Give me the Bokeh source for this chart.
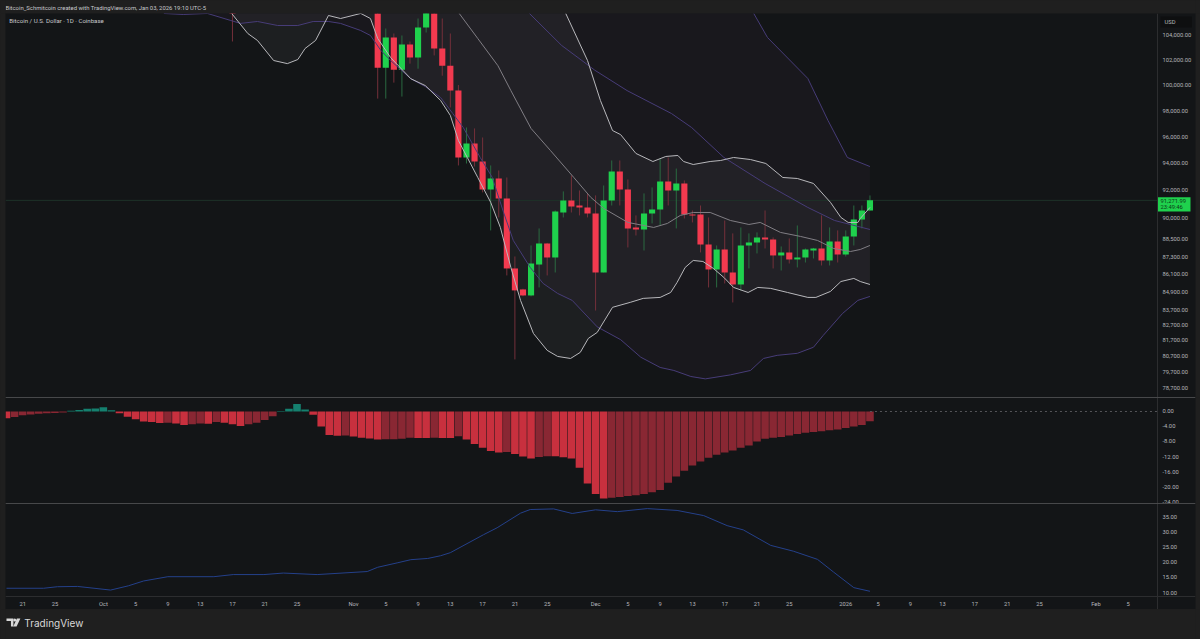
from bokeh.plotting import figure
from bokeh.layouts import column
from bokeh.models import (Range1d, LinearAxis, LogAxis, FixedTicker, NumeralTickFormatter,
                          Span, Label, ColumnDataSource)
from bokeh.embed import file_html
from bokeh.resources import INLINE

# ---- candles: bar number (day), open, high, low, close (USD) ----
bars = [28, 46, 47, 48, 49, 50, 51, 52, 53, 54, 55, 56, 57, 58, 59, 60, 61, 62, 63, 64, 65, 66, 67,
        68, 69, 70, 71, 72, 73, 74, 75, 76, 77, 78, 79, 80, 81, 82, 83, 84, 85, 86, 87, 88, 89, 90,
        91, 92, 93, 94, 95, 96, 97, 98, 99, 100, 101, 102, 103, 104, 105, 106, 107]
opens = [107500, 107000, 101380, 103836, 101220, 103260, 102200, 104660, 106200, 102935, 101540,
         99560, 94420, 95470, 94125, 92062, 92867, 91410, 86480, 85055, 84651, 86750, 88210,
         87235, 90400, 91270, 90902, 90760, 90330, 86205, 91270, 93380, 92062, 89335, 89192,
         90330, 90615, 92646, 91990, 92500, 90260, 90260, 88139, 86412, 87790, 86205,
         85390, 88070, 88280, 88630, 88488, 87375, 87585, 87098, 87235, 87720, 87860, 87030,
         88350, 87443, 88700, 89900, 90545]
highs = [108000, 107500, 104577, 104165, 104000, 103508, 105407, 107000, 107000, 105407, 104165,
         100000, 96694, 96620, 95930, 93829, 93458, 92940, 87305, 85100, 88070, 89265, 88250,
         90545, 91920, 93088, 91990, 91775, 91630, 92354, 94200, 94200, 92795, 90190, 91775,
         92210, 94345, 94424, 93600, 92720, 90545, 90902, 90045, 88070, 89829, 88915,
         89335, 88915, 88985, 90545, 88630, 88000, 88560, 89474, 87860, 87900, 90190, 89335,
         89125, 89125, 90902, 90902, 91626]
lows = [103508, 98930, 98930, 100190, 99090, 101710, 101300, 104247, 102370, 100740, 98240,
        93830, 93975, 93750, 91850, 89125, 90045, 86003, 80470, 84600, 84590, 85190, 86003,
        86205, 90045, 90400, 90190, 90045, 83647, 86205, 90902, 90902, 87930, 88769, 87720,
        89620, 89474, 90902, 89265, 89970, 89690, 87585, 85190, 85190, 85459, 84183,
        84990, 86480, 87515, 87860, 86480, 86340, 86820, 86550, 86890, 87165, 86685, 86685,
        86890, 87305, 88070, 89265, 90545]
closes = [106800, 101380, 103836, 101220, 103260, 102200, 104660, 106200, 102935, 101540, 99560,
          94420, 95470, 94125, 92062, 92867, 91410, 86480, 84990, 84651, 86820, 88210, 87235,
          90475, 91270, 90830, 90760, 90330, 86205, 91270, 93380, 92062, 89265, 89192, 90330,
          90615, 92646, 91990, 92500, 90260, 90190, 88139, 86412, 87790, 86205, 85390,
          88070, 88280, 88630, 88488, 87375, 87585, 87098, 87235, 87790, 87860, 87030, 88350,
          87443, 88700, 89900, 90545, 91272]

# ---- Bollinger bands, inner (white) ----
wl_x = [27.9, 29.9, 31.1, 33.1, 34.8, 36.1, 37.0, 38.3, 39.9, 41.4, 43.9, 45.1, 46.0, 47.6, 50.1, 51.9,
        53.8, 55.0, 56.0, 57.1, 58.4, 60.0, 61.2, 62.5, 63.7, 65.3, 67.0, 68.3, 69.9, 71.1, 72.1, 73.2,
        75.1, 77.3, 78.9, 81.0, 82.3, 83.1, 84.1, 85.1, 86.3, 87.6, 88.9, 90.1, 91.9, 93.1, 94.7, 96.8,
        99.3, 100.3, 102.1, 103.4, 105.0, 105.8, 107.0]
wl_y = [105830, 104165, 103590, 101960, 101710, 102040, 102935, 103590, 105660, 105407, 105830, 105407,
        103755, 102200, 100500, 99955, 98780, 97620, 95700, 94424, 92940, 91130, 89335, 86550, 84320,
        82140, 81050, 80660, 80530, 80920, 81820, 82210, 83860, 84190, 84455, 84520, 84850, 85530, 86550,
        87030, 86960, 86480, 85865, 85190, 84850, 85190, 85125, 84850, 84520, 84520, 84920, 85590, 85800,
        85590, 85390]
wu_x = [27.9, 69.3, 72.0, 73.6, 75.1, 76.1, 78.0, 80.1, 81.7, 83.2, 83.9, 85.1, 87.2, 88.5, 90.1, 92.2,
        94.1, 96.2, 98.0, 100.0, 102.1, 103.4, 104.3, 105.5, 105.8, 107.0]
wu_y = [110000, 105830, 101960, 98780, 96460, 96150, 94725, 94125, 94500, 94575, 94125, 93900, 94125,
        94200, 94424, 94270, 93975, 92940, 92867, 92500, 91130, 90045, 89690, 89690, 89970, 90760]
wm_x = [56.1, 58.4, 60.9, 62.5, 65.0, 67.4, 70.3, 72.4, 74.0, 77.0, 80.2, 81.9, 83.5, 85.1, 87.2, 89.7,
        92.0, 93.4, 95.9, 98.4, 100.5, 102.5, 104.6, 105.8, 107.0]
wm_y = [105830, 103755, 101540, 99560, 96620, 94950, 92940, 91490, 90690, 89690, 89335, 89620, 90190,
        90400, 90400, 89830, 89545, 89690, 88985, 88700, 88420, 87860, 87650, 87790, 88070]

# ---- Bollinger bands, outer (purple) ----
pu_x = [19.5, 92.6, 94.3, 99.3, 101.8, 104.2, 107.0]
pu_y = [112000, 105830, 103836, 100520, 97230, 94424, 93750]
pm_x = [64.8, 68.8, 71.3, 72.9, 76.9, 82.4, 84.9, 88.9, 94.0, 99.3, 102.6, 107.0]
pm_y = [105830, 103180, 101960, 101180, 99560, 97770, 96690, 94424, 92500, 90760, 89830, 89190]
pl_x = [19.5, 21.9, 24.9, 27.8, 29.0, 31.1, 33.6, 36.1, 38.0, 39.9, 41.4, 43.9, 45.1, 46.4, 47.6, 50.1,
        51.9, 53.8, 55.3, 56.6, 58.7, 60.2, 61.6, 62.8, 64.9, 66.5, 68.3, 70.1, 73.2, 76.1, 78.6, 81.0,
        82.7, 84.8, 86.6, 89.7, 92.2, 93.8, 95.5, 98.0, 100.0, 101.2, 103.6, 105.5, 107.0]
pl_y = [105830, 105745, 105830, 105240, 105000, 105160, 104825, 104825, 105160, 105160, 105000, 104410,
        104000, 102770, 101960, 100500, 99875, 99010, 97770, 96690, 94424, 92940, 90400, 88420, 86550,
        85460, 84785, 84320, 82570, 81740, 80610, 79960, 79770, 79390, 79240, 79490, 79770, 80530, 80730,
        80860, 81250, 82010, 83450, 84320, 84585]

# ---- histogram, one value per bar, bar 0 to 107 ----
hist = [-1.8, -1.5, -1.0, -0.8, -0.6, -0.5, -0.4, -0.3, 0.2, 0.4, 0.7, 0.8, 1.1, 0.3, -0.5, -1.4, -2.1,
        -2.7, -2.8, -3.05, -3.0, -3.2, -3.6, -3.4, -3.2, -3.3, -2.8, -3.0, -3.4, -3.9, -3.4, -3.0, -2.3,
        -1.3, 0.1, 0.7, 2.0, 0.5, -0.9, -4.0, -6.3, -6.5, -6.4, -6.7, -7.0, -7.2, -7.45, -7.4, -7.38,
        -7.3, -7.0, -7.05, -7.1, -7.0, -7.05, -7.1, -6.6, -7.5, -8.7, -9.7, -10.5, -10.9, -10.8, -11.3,
        -12.0, -12.5, -12.1, -11.9, -11.95, -12.2, -12.5, -15.0, -19.2, -22.0, -23.2, -23.0, -22.8, -22.5,
        -22.3, -22.0, -21.5, -20.9, -19.0, -17.3, -15.8, -14.4, -13.3, -12.3, -11.5, -10.9, -10.4, -9.7,
        -9.1, -8.0, -7.3, -7.0, -6.8, -6.4, -6.0, -5.7, -5.5, -5.3, -5.0, -4.8, -4.4, -4.0, -3.6, -2.6]

# ---- lower line ----
adx_x = [0, 4.6, 6.3, 8.8, 12.9, 15.1, 17.0, 20.0, 25.7, 28.1, 31.9, 34.3, 38.5, 44.7, 46.0, 48.5, 50.1,
         52.2, 53.8, 55.0, 59.1, 60.8, 63.7, 64.9, 67.8, 70.1, 73.0, 75.7, 79.4, 83.1, 86.4, 89.3, 91.3,
         94.7, 97.5, 100.5, 102.5, 105.0, 107.0]
adx_y = [11.4, 11.4, 11.9, 12.0, 10.8, 12.2, 13.8, 15.2, 15.2, 15.9, 15.9, 16.4, 15.9, 16.9, 18.3, 19.8,
         20.8, 21.2, 22.1, 23.1, 29.0, 31.3, 36.1, 37.3, 37.5, 36.0, 37.2, 36.6, 37.6, 37.0, 35.3, 32.0,
         30.6, 25.5, 23.6, 20.9, 16.7, 11.6, 10.4]

# ---- axes ----
price_ticks = [78700, 79700, 80700, 81700, 82700, 83700, 84900, 86100, 87300, 88500, 90000, 92000,
               94000, 96000, 98000, 100000, 102000, 104000]
hist_ticks = [0, -4, -8, -12, -16, -20, -24]
adx_ticks = [35, 30, 25, 20, 15, 10]
date_ticks = [2, 6, 12, 16, 20, 24, 28, 32, 36, 43, 47, 51, 55, 59, 63, 67, 73, 77, 81, 85, 89, 93, 97,
              104, 108, 112, 116, 120, 124, 128, 135, 139]
date_labels = ["21", "25", "Oct", "5", "9", "13", "17", "21", "25", "Nov", "5", "9", "13", "17", "21",
               "25", "Dec", "5", "9", "13", "17", "21", "25", "2026", "5", "9", "13", "17", "21", "25",
               "Feb", "5"]
last_price = 91271.99

OUTER = "#1f1f1f"
PANEL = "#131517"
RULE = "#77787a"
EDGE = "#2c2d2f"
TEXT = "#b4b6bb"
UP = "#1fd14d"
DOWN = "#f23a4f"
FONT = "Roboto"
TICK_SIZE = "5.8px"

x_left, x_right = -0.124, 147.34
x_axis_at = 142.63


def panel(height, y_range, **kw):
    f = figure(width=1200, height=height, x_range=Range1d(x_left, x_right), y_range=y_range,
               x_axis_location=None, y_axis_location=None, toolbar_location=None,
               output_backend="svg", background_fill_color=PANEL, border_fill_color=OUTER,
               min_border_left=5, min_border_right=5, min_border_top=0, min_border_bottom=0,
               outline_line_color=None, **kw)
    f.grid.visible = False
    return f


def strip(height):
    f = figure(width=1200, height=height, x_range=Range1d(0, 1200), y_range=Range1d(height, 0),
               x_axis_location=None, y_axis_location=None, toolbar_location=None,
               output_backend="svg", background_fill_color=OUTER, border_fill_color=OUTER,
               min_border_left=0, min_border_right=0, min_border_top=0, min_border_bottom=0,
               outline_line_color=None)
    f.grid.visible = False
    return f


def style_axis(ax, standoff):
    ax.major_tick_line_color = None
    ax.minor_tick_line_color = None
    ax.major_tick_in = 0
    ax.major_tick_out = 0
    ax.minor_tick_in = 0
    ax.minor_tick_out = 0
    ax.axis_line_color = EDGE
    ax.major_label_text_color = TEXT
    ax.major_label_text_font = FONT
    ax.major_label_text_font_size = TICK_SIZE
    ax.major_label_standoff = standoff


def style_y_axis(ax, ticks):
    ax.ticker = FixedTicker(ticks=ticks)
    ax.formatter = NumeralTickFormatter(format="0,0.00")
    style_axis(ax, 5)
    ax.fixed_location = x_axis_at


# ---- header strip ----
head = strip(13)
head.add_layout(Label(x=0, y=7, text="Bitcoin_Schmitcoin created with TradingView.com, Jan 03, 2026 19:10 UTC-5",
                      text_font=FONT, text_font_size="5.9px", text_color="#c8c9cc", text_baseline="middle"))

# ---- price pane ----
main = panel(384, Range1d(78080, 105827), y_axis_type="log")

main.patch(pu_x + pl_x[::-1], pu_y + pl_y[::-1], fill_color="#8a6aa0", fill_alpha=0.05, line_color=None)
main.patch(wu_x + wl_x[::-1], wu_y + wl_y[::-1], fill_color="#ffffff", fill_alpha=0.045, line_color=None)

main.line([x_left, x_axis_at], [last_price, last_price], line_color="#1e3229", line_width=1)

colors = [UP if c >= o else DOWN for o, c in zip(opens, closes)]
wicks = ["#2a6a40" if c >= o else "#74303a" for o, c in zip(opens, closes)]
src = ColumnDataSource(dict(x=bars, o=opens, h=highs, l=lows, c=closes, col=colors, wick=wicks))
main.segment("x", "h", "x", "l", source=src, line_color="wick", line_width=1)
main.vbar("x", 0.76, "o", "c", source=src, fill_color="col", line_color=None)

main.line(pu_x[1:], pu_y[1:], line_color="#473c78", line_width=1)
main.line(pm_x, pm_y, line_color="#473c78", line_width=1)
main.line(pl_x, pl_y, line_color="#473c78", line_width=1)
main.line(wu_x[1:], wu_y[1:], line_color="#b8b8bc", line_width=1)
main.line(wm_x, wm_y, line_color="#807e84", line_width=1)
main.line(wl_x, wl_y, line_color="#b8b8bc", line_width=1)

price_axis = LogAxis()
style_y_axis(price_axis, price_ticks)
main.add_layout(price_axis, "right")

main.quad(left=[143.0], right=[146.9], top=[105580], bottom=[104660], fill_color="#0e0f10", line_color=None)
main.add_layout(Label(x=143.5, y=105120, text="USD", text_font=FONT, text_font_size=TICK_SIZE,
                      text_color=TEXT, text_baseline="middle"))

main.quad(left=[142.63], right=[146.72], top=[91490], bottom=[90475], fill_color=UP, line_color=None)
main.add_layout(Label(x=143.0, y=91240, text="91,271.99", text_font=FONT, text_font_size=TICK_SIZE,
                      text_color="#0b3a18", text_baseline="middle"))
main.add_layout(Label(x=143.0, y=90760, text="23:49:46", text_font=FONT, text_font_size=TICK_SIZE,
                      text_color="#0b3a18", text_baseline="middle"))

main.add_layout(Label(x=0.35, y=105240, text="Bitcoin / U.S. Dollar \u00b7 1D \u00b7 Coinbase",
                      text_font=FONT, text_font_size="6.1px", text_color="#c8c9cc", text_baseline="middle"))

# ---- histogram pane ----
hist_pane = panel(106, Range1d(-24.53, 3.73))
bar_colors = []
for i, v in enumerate(hist):
    if v >= 0:
        bar_colors.append("#15806f")
    elif i == 0 or v < hist[i - 1]:
        bar_colors.append("#c8303e")
    else:
        bar_colors.append("#892733")
hist_pane.vbar(list(range(len(hist))), 0.94, 0, hist, fill_color=bar_colors, line_color=None)
hist_pane.line([len(hist) - 1, x_axis_at], [0, 0], line_color="#55565a", line_width=1, line_dash=[2, 3])
hist_axis = LinearAxis()
style_y_axis(hist_axis, hist_ticks)
hist_pane.add_layout(hist_axis, "right")
hist_pane.add_layout(Span(location=3.73, dimension="width", line_color=RULE, line_width=1))

# ---- line pane with the time axis ----
adx_pane = panel(106, Range1d(4.41, 39.28))
adx_pane.line(adx_x, adx_y, line_color="#24408a", line_width=1)
adx_axis = LinearAxis()
style_y_axis(adx_axis, adx_ticks)
adx_pane.add_layout(adx_axis, "right")
time_axis = LinearAxis(fixed_location=8.68, ticker=FixedTicker(ticks=date_ticks),
                       major_label_overrides=dict(zip(date_ticks, date_labels)))
style_axis(time_axis, 4)
adx_pane.add_layout(time_axis, "below")
adx_pane.add_layout(Span(location=39.28, dimension="width", line_color=RULE, line_width=1))

# ---- footer with the wordmark ----
foot = strip(30)
foot.patch([1, 8, 8, 5.5, 5.5, 1], [9, 9, 17, 17, 11.5, 11.5], fill_color="#d8d8d8", line_color=None)
foot.scatter([9.3], [10.4], size=3, fill_color="#d8d8d8", line_color=None)
foot.patch([11.5, 15, 11.2, 7.8], [9, 9, 17, 17], fill_color="#d8d8d8", line_color=None)
foot.add_layout(Label(x=19, y=13, text="TradingView", text_font="Inter", text_font_size="10px",
                      text_color="#d8d8d8", text_baseline="middle"))

page = column(head, main, hist_pane, adx_pane, foot, spacing=0)
html = file_html(page, INLINE).replace("<body>", '<body style="background:#1f1f1f">')
open("out.html", "w").write(html)
